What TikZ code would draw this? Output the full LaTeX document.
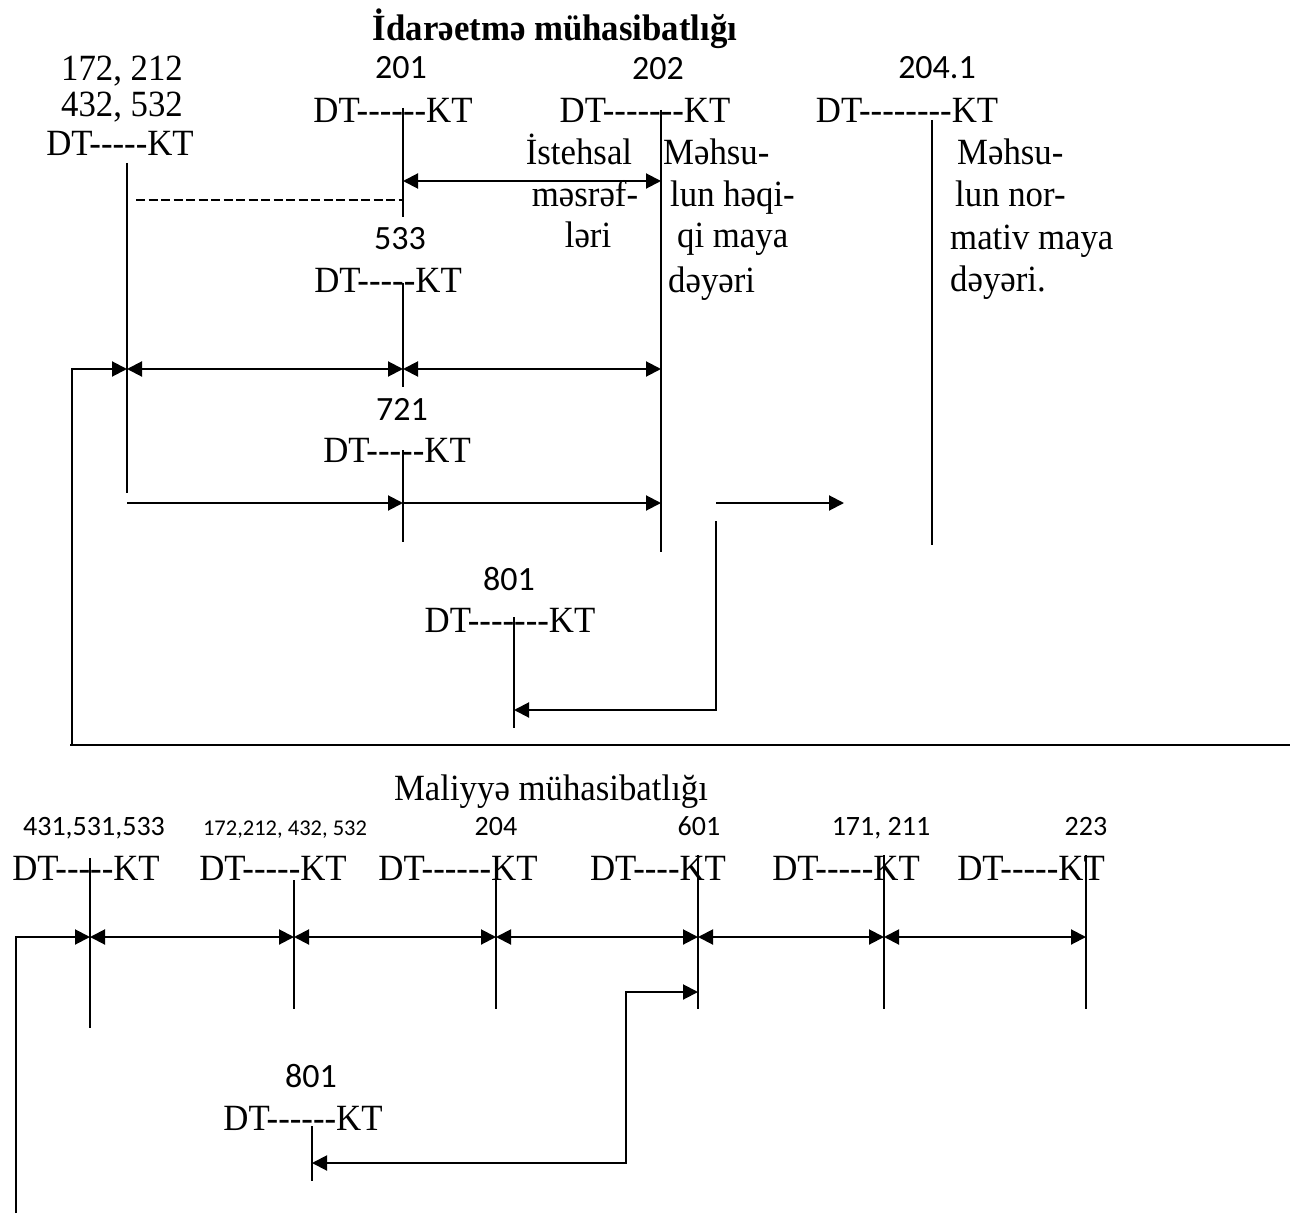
\documentclass[tikz,border=0pt]{standalone}
\usepackage{fontspec}
\setmainfont{Liberation Serif}[Ligatures=TeXOff, FakeStretch=0.94]
\newfontfamily\calib{Carlito}
\usetikzlibrary{arrows.meta}
\begin{document}
\begin{tikzpicture}[x=1pt,y=-1pt,
  >={Triangle[length=15pt,width=15pt]},
  txt/.style={inner sep=0pt, anchor=base, font=\fontsize{37}{43}\selectfont},
  num/.style={inner sep=0pt, anchor=base, font=\calib\fontsize{34}{40}\selectfont},
  numsm/.style={inner sep=0pt, anchor=base, font=\calib\fontsize{28}{34}\selectfont},
  numxs/.style={inner sep=0pt, anchor=base, font=\calib\fontsize{22.5}{27}\selectfont},
  axis/.style={line width=1.5pt},
  flow/.style={line width=2pt, ->},
  both/.style={line width=2pt, <->},
  dotted rule/.style={line width=1.5pt, dash pattern=on 9pt off 3.5pt}]
\useasboundingbox (0,0) rectangle (1314,1214);

% ---------- management accounting ----------
\node[txt, font=\bfseries\fontsize{37}{43}\selectfont] (title1) at (555,41) {İdarəetmə mühasibatlığı};

\node[txt] (l172a) at (122,81) {172, 212};
\node[txt] (l172b) at (122,117) {432, 532};
\node[txt] (d172) at (120,156) {DT-----KT};

\node[num] (l201) at (401,79) {201};
\node[txt] (d201) at (393,123) {DT------KT};
\node[num] (l202) at (658,80) {202};
\node[txt] (d202) at (645,123) {DT-------KT};
\node[num] (l2041) at (937,79) {204.1};
\node[txt] (d2041) at (907,123) {DT--------KT};

\node[txt] (c1) at (579,165) {İstehsal};
\node[txt] (c2) at (585,207) {məsrəf-};
\node[txt] (c3) at (588,248) {ləri};

\node[txt, anchor=base west] (h1) at (663,165) {Məhsu-};
\node[txt, anchor=base west] (h2) at (670,207) {lun həqi-};
\node[txt, anchor=base west] (h3) at (677,248) {qi maya};
\node[txt, anchor=base west] (h4) at (668,293) {dəyəri};

\node[txt, anchor=base west] (p1) at (957,165) {Məhsu-};
\node[txt, anchor=base west] (p2) at (955,207) {lun nor-};
\node[txt, anchor=base west] (p3) at (950,250) {mativ maya};
\node[txt, anchor=base west] (p4) at (950,292) {dəyəri.};

\node[num] (l533) at (400,250) {533};
\node[txt] (d533) at (388,293) {DT-----KT};
\node[num] (l721) at (402,420) {721};
\node[txt] (d721) at (397,462) {DT-----KT};
\node[num] (l801) at (509,590) {801};
\node[txt] (d801) at (510,632) {DT-------KT};

% account axes
\coordinate (a172t) at (127,163);  \coordinate (a172b) at (127,493);
\coordinate (a201t) at (403,108);  \coordinate (a201b) at (403,217);
\coordinate (a202t) at (661,110);  \coordinate (a202b) at (661,552);
\coordinate (a204t) at (932,120);  \coordinate (a204b) at (932,545);
\coordinate (a533t) at (403,283);  \coordinate (a533b) at (403,387);
\coordinate (a721t) at (403,450);  \coordinate (a721b) at (403,542);
\coordinate (a801t) at (514,617);  \coordinate (a801b) at (514,728);
\foreach \a in {172,201,202,204,533,721,801}
  \draw[axis] (a\a t) -- (a\a b);

% rows of entries
\coordinate (rA) at (0,181);
\coordinate (rB) at (0,200);
\coordinate (rC) at (0,369);
\coordinate (rD) at (0,503);
\coordinate (rE) at (0,710);

\draw[both] (a201t |- rA) -- (a202t |- rA);
\coordinate (dashL) at (136,200);
\draw[dotted rule] (dashL) -- (a201t |- rB);

\coordinate (ret1) at (72,745);
\draw[flow] (ret1) -- (ret1 |- rC) -- (a172t |- rC);
\draw[both] (a172t |- rC) -- (a533t |- rC);
\draw[both] (a533t |- rC) -- (a202t |- rC);

\draw[flow] (a172t |- rD) -- (a721t |- rD);
\draw[flow] (a721t |- rD) -- (a202t |- rD);
\coordinate (outS) at (716,503);
\coordinate (outE) at (844,503);
\draw[flow] (outS) -- (outE);
\coordinate (clo) at (716,521);
\draw[flow] (clo) -- (clo |- rE) -- (a801t |- rE);

% separator between the two parts
\coordinate (sepL) at (70,745);
\coordinate (sepR) at (1290,745);
\draw[line width=1.5pt] (sepL) -- (sepR);

% ---------- financial accounting ----------
\node[txt] (title2) at (551,800) {Maliyyə mühasibatlığı};

\node[numsm] (f431) at (94,835) {431,531,533};
\node[numxs] (f172) at (285,835) {172,212, 432, 532};
\node[numsm] (f204) at (496,835) {204};
\node[numsm] (f601) at (699,835) {601};
\node[numsm] (f171) at (881,835) {171, 211};
\node[numsm] (f223) at (1086,835) {223};

\node[txt] (g431) at (86,880) {DT-----KT};
\node[txt] (g172) at (273,880) {DT-----KT};
\node[txt] (g204) at (458,880) {DT------KT};
\node[txt] (g601) at (658,880) {DT----KT};
\node[txt] (g171) at (846,880) {DT-----KT};
\node[txt] (g223) at (1031,880) {DT-----KT};

\node[num] (f801) at (311,1087) {801};
\node[txt] (g801) at (303,1130) {DT------KT};

\coordinate (b431t) at (90,858);   \coordinate (b431b) at (90,1028);
\coordinate (b172t) at (294,880);  \coordinate (b172b) at (294,1009);
\coordinate (b204t) at (496,860);  \coordinate (b204b) at (496,1009);
\coordinate (b601t) at (698,855);  \coordinate (b601b) at (698,1009);
\coordinate (b171t) at (884,855);  \coordinate (b171b) at (884,1009);
\coordinate (b223t) at (1086,855); \coordinate (b223b) at (1086,1009);
\coordinate (b801t) at (312,1126); \coordinate (b801b) at (312,1181);
\foreach \a in {431,172,204,601,171,223,801}
  \draw[axis] (b\a t) -- (b\a b);

\coordinate (sA) at (0,937);
\coordinate (sB) at (0,992);
\coordinate (sC) at (0,1163);

\coordinate (ret2) at (16,1213);
\draw[flow] (ret2) -- (ret2 |- sA) -- (b431t |- sA);
\draw[both] (b431t |- sA) -- (b172t |- sA);
\draw[both] (b172t |- sA) -- (b204t |- sA);
\draw[both] (b204t |- sA) -- (b601t |- sA);
\draw[both] (b601t |- sA) -- (b171t |- sA);
\draw[both] (b171t |- sA) -- (b223t |- sA);

\coordinate (fin) at (626,1163);
\draw[both] (b801t |- sC) -- (fin) -- (fin |- sB) -- (b601t |- sB);
\end{tikzpicture}
\end{document}
